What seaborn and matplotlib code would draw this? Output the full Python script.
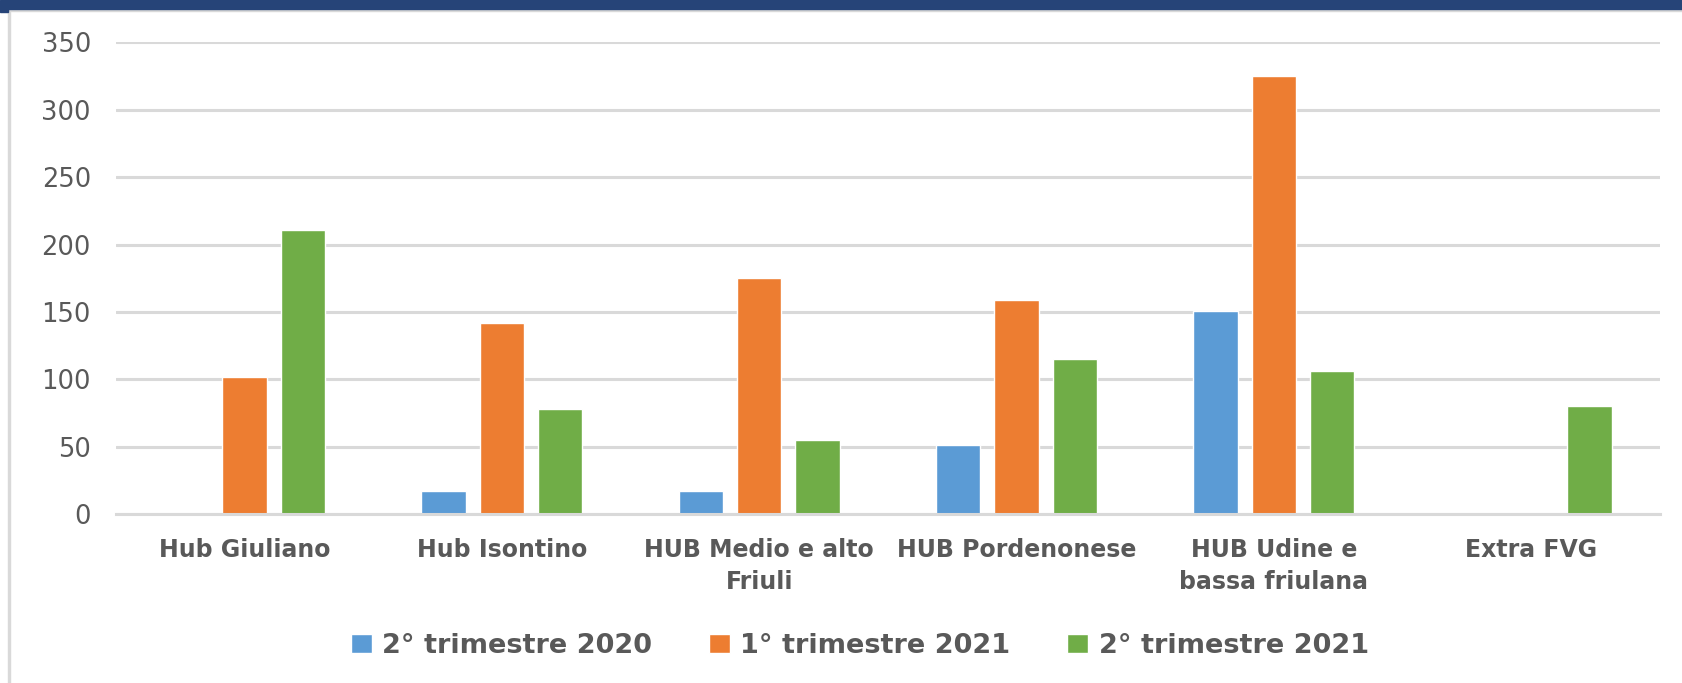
import pandas as pd
import seaborn as sns
import matplotlib.pyplot as plt
from matplotlib.patches import Rectangle

# --- Data ---
categories = ["Hub Giuliano", "Hub Isontino", "HUB Medio e alto\nFriuli",
              "HUB Pordenonese", "HUB Udine e\nbassa friulana", "Extra FVG"]
series = ["2° trimestre 2020", "1° trimestre 2021", "2° trimestre 2021"]
q2_2020 = [0, 17, 17, 51, 151, 0]
q1_2021 = [102, 142, 175, 159, 325, 0]
q2_2021 = [211, 78, 55, 115, 106, 80]
y_ticks = [0, 50, 100, 150, 200, 250, 300, 350]

colors = ["#5B9BD5", "#ED7D31", "#70AD47"]

df = pd.DataFrame({
    "hub": categories * 3,
    "periodo": [s for s in series for _ in categories],
    "valore": q2_2020 + q1_2021 + q2_2021,
})

# --- Plot ---
sns.set_style("white")
plt.rcParams["font.family"] = ["DejaVu Sans"]

fig = plt.figure(figsize=(16.83, 6.83), dpi=100)
ax = fig.add_axes([0.0689, 0.2474, 0.9174, 0.6904])

sns.barplot(data=df, x="hub", y="valore", hue="periodo", hue_order=series,
            palette=colors, width=0.68, gap=0.24, saturation=1, ax=ax)

ax.set_ylim(0, 350)
ax.set_xlim(-0.5, len(categories) - 0.5)
ax.set_yticks(y_ticks)
ax.set_yticklabels([str(v) for v in y_ticks], fontsize=18.5, color="#595959")
ax.yaxis.grid(True, color="#D9D9D9", linewidth=2.2)
ax.set_axisbelow(True)
ax.tick_params(axis="y", length=0, pad=18)
ax.tick_params(axis="x", length=0, pad=17)
for lbl in ax.get_xticklabels():
    lbl.set_fontsize(17)
    lbl.set_fontweight("bold")
    lbl.set_color("#595959")
    lbl.set_linespacing(1.45)
ax.set_xlabel("")
ax.set_ylabel("")
for side in ["top", "right", "left"]:
    ax.spines[side].set_visible(False)
ax.spines["bottom"].set_color("#D9D9D9")
ax.spines["bottom"].set_linewidth(2.2)

handles, labels = ax.get_legend_handles_labels()
ax.legend(handles, labels, loc="center", bbox_to_anchor=(860 / 1683, 1 - 646 / 683),
          bbox_transform=fig.transFigure, ncol=3, frameon=False,
          prop={"size": 19.5, "weight": "bold"}, labelcolor="#595959",
          handlelength=0.75, handleheight=0.75, handletextpad=0.4, columnspacing=2.1)

# frame decorations (dark blue band on top, grey border)
fig.patches.append(Rectangle((0, 1 - 9 / 683), 1, 9 / 683, transform=fig.transFigure,
                             color="#264478", zorder=5))
fig.patches.append(Rectangle((0, 1 - 12 / 683), 8 / 1683, 3 / 683, transform=fig.transFigure,
                             color="#264478", zorder=5))
fig.patches.append(Rectangle((8 / 1683, 1 - 11 / 683), 1 - 8 / 1683, 2 / 683,
                             transform=fig.transFigure, color="#D9D9D9", zorder=4))
fig.patches.append(Rectangle((8 / 1683, 0), 2 / 1683, 1 - 9 / 683,
                             transform=fig.transFigure, color="#D9D9D9", zorder=4))

fig.savefig("out.png", dpi=100)
